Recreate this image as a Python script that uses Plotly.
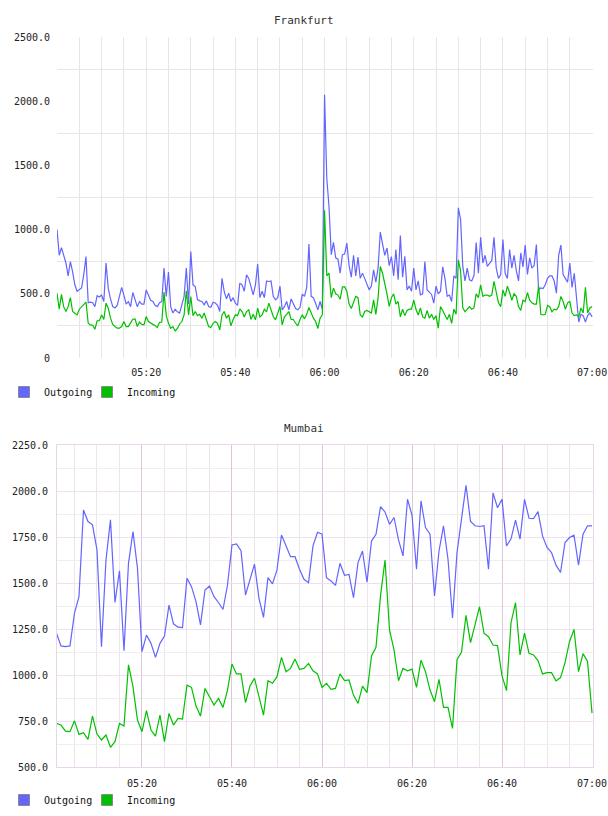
import pandas as pd
import plotly.graph_objects as go

# ---------------- data ----------------
fra_out = [
    1000, 800, 860, 800, 740, 640, 750, 670, 570, 520,
    530, 545, 650, 790, 430, 435, 430, 400, 485, 475,
    490, 440, 740, 540, 460, 400, 390, 410, 480, 550,
    490, 420, 440, 400, 510, 460, 400, 440, 420, 420,
    530, 490, 450, 440, 410, 400, 430, 440, 700, 480,
    670, 400, 350, 380, 360, 350, 420, 480, 700, 420,
    830, 570, 557, 455, 445, 440, 414, 445, 401, 395,
    435, 428, 410, 362, 620, 518, 460, 505, 440, 470,
    427, 410, 583, 570, 520, 648, 620, 560, 492, 570,
    732, 470, 520, 470, 600, 596, 600, 480, 453, 470,
    560, 375, 400, 440, 375, 460, 420, 385, 375, 395,
    497, 480, 549, 888, 480, 470, 425, 375, 440, 380,
    2050, 1400, 1180, 805, 900, 780, 770, 660, 805, 810,
    895, 720, 630, 800, 640, 786, 620, 661, 620, 570,
    531, 560, 687, 590, 700, 981, 900, 800, 857, 720,
    790, 640, 844, 610, 953, 630, 792, 531, 560, 520,
    700, 530, 600, 492, 500, 752, 530, 510, 495, 427,
    560, 500, 520, 710, 620, 480, 490, 440, 640, 620,
    1170, 1080, 713, 600, 700, 609, 600, 640, 900, 660,
    940, 740, 800, 713, 740, 760, 940, 700, 620, 650,
    922, 660, 620, 844, 700, 800, 680, 600, 818, 710,
    880, 650, 780, 700, 720, 883, 531, 545, 540, 570,
    620, 640, 640, 600, 505, 800, 880, 650, 620, 590,
    740, 550, 660, 450, 280, 340, 330, 280, 330, 350,
    320,
]
fra_in = [
    505, 380, 495, 400, 362, 400, 470, 362, 349, 336,
    380, 400, 420, 435, 271, 258, 255, 224, 290, 290,
    336, 300, 427, 388, 310, 262, 245, 232, 232, 245,
    284, 245, 245, 270, 302, 305, 245, 280, 262, 258,
    323, 284, 270, 262, 253, 237, 278, 280, 513, 330,
    270, 232, 245, 211, 230, 265, 284, 336, 523, 336,
    479, 330, 362, 330, 340, 310, 350, 290, 245, 237,
    270, 284, 270, 219, 336, 362, 310, 336, 250, 300,
    336, 330, 383, 362, 320, 362, 375, 300, 340, 297,
    388, 320, 336, 380, 360, 427, 370, 323, 297, 360,
    401, 258, 320, 340, 362, 300, 300, 271, 250, 300,
    336, 305, 340, 393, 350, 310, 284, 230, 310, 336,
    1150, 640, 661, 470, 544, 500, 490, 458, 552, 555,
    520, 420, 385, 440, 480, 470, 336, 320, 362, 370,
    360, 350, 453, 340, 466, 713, 660, 590, 500, 401,
    470, 500, 420, 440, 320, 380, 330, 370, 380, 380,
    450, 380, 335, 390, 320, 310, 370, 310, 340, 300,
    330, 232, 400, 370, 336, 300, 340, 270, 380, 340,
    765, 680, 390, 360, 380, 400, 380, 390, 500, 470,
    570, 480, 490, 490, 480, 490, 596, 500, 430, 400,
    530, 480, 560, 510, 450, 500, 480, 400, 370, 450,
    440, 510, 450, 430, 420, 420, 560, 340, 335, 340,
    410, 400, 360, 380, 375, 400, 480, 440, 380, 430,
    440, 350, 330, 336, 320, 390, 350, 550, 350, 390,
    401,
]
mum_out = [
    1227, 1158, 1154, 1158, 1336, 1426, 1897, 1834, 1816, 1680,
    1154, 1625, 1843, 1394, 1566, 1132, 1607, 1779, 1580, 1127,
    1217, 1172, 1096, 1172, 1212, 1380, 1278, 1260, 1258, 1526,
    1480, 1399, 1272, 1462, 1484, 1426, 1394, 1356, 1489, 1707,
    1712, 1676, 1435, 1520, 1603, 1417, 1313, 1529, 1495, 1571,
    1761, 1702, 1643, 1643, 1575, 1520, 1502, 1702, 1775, 1766,
    1529, 1511, 1487, 1607, 1542, 1547, 1420, 1611, 1674, 1505,
    1728, 1765, 1915, 1886, 1819, 1856, 1734, 1647, 1955, 1868,
    1575, 1946, 1801, 1765, 1430, 1674, 1810, 1629, 1310, 1665,
    1846, 2031, 1834, 1811, 1807, 1811, 1575, 1990, 1909, 1955,
    1701, 1740, 1842, 1738, 1955, 1852, 1850, 1888, 1756, 1693,
    1665, 1597, 1557, 1720, 1747, 1760, 1597, 1765, 1811, 1811,
]
mum_in = [
    737, 728, 695, 692, 751, 677, 686, 650, 777, 679,
    647, 674, 607, 638, 737, 723, 1055, 937, 755, 692,
    806, 701, 668, 782, 638, 791, 728, 764, 760, 945,
    933, 831, 777, 927, 882, 837, 873, 824, 918, 1060,
    1006, 1006, 850, 940, 982, 882, 782, 969, 955, 991,
    1096, 1018, 1036, 1087, 1031, 1036, 1063, 1023, 1006, 933,
    955, 922, 927, 1006, 969, 973, 891, 846, 940, 904,
    1104, 1151, 1430, 1625, 1245, 1136, 969, 1036, 1023, 1032,
    933, 1081, 1018, 918, 855, 976, 824, 824, 710, 1083,
    1125, 1324, 1176, 1272, 1371, 1227, 1208, 1163, 1160, 995,
    915, 1284, 1393, 1109, 1227, 1118, 1109, 1078, 1006, 1013,
    1013, 968, 986, 1067, 1181, 1248, 1018, 1116, 1074, 793,
]

series_names = ["Outgoing", "Incoming"]
series_colors = ["#6464ff", "#00c000"]

fra_yticks = [0, 500, 1000, 1500, 2000, 2500]
fra_ytext = ["0", "500.0", "1000.0", "1500.0", "2000.0", "2500.0"]
fra_ygrid = [250, 750, 1250, 1750, 2250]
mum_yticks = [500, 750, 1000, 1250, 1500, 1750, 2000, 2250]
mum_ytext = ["500.0", "750.0", "1000.0", "1250.0", "1500.0", "1750.0", "2000.0", "2250.0"]
mum_ygrid = [625, 875, 1125, 1375, 1625, 1875, 2125]

day = "2013-05-01 "
x_ticks = [day + t for t in ["05:20", "05:40", "06:00", "06:20", "06:40", "07:00"]]

fra_time = pd.date_range(day + "05:00:00", periods=len(fra_out), freq="30s")
mum_time = pd.date_range(day + "05:01:00", periods=len(mum_out), freq="60s")
five_min = pd.date_range(day + "05:05", day + "06:55", freq="5min")
minor_x = [t for t in five_min if t.minute % 20 != 0]

# ---------------- figure ----------------
W, H = 608, 816
ML, MR = 57, 15
font_mono = "DejaVu Sans Mono"
tick_font = dict(family=font_mono, size=10, color="#222222")


def py(pix):
    return (H - pix) / H


fig = go.Figure()

for vals, name, col in zip([fra_out, fra_in], series_names, series_colors):
    fig.add_trace(go.Scatter(x=fra_time, y=vals, mode="lines", name=name,
                             line=dict(color=col, width=1.2), showlegend=False,
                             xaxis="x", yaxis="y"))
for vals, name, col in zip([mum_out, mum_in], series_names, series_colors):
    fig.add_trace(go.Scatter(x=mum_time, y=vals, mode="lines", name=name,
                             line=dict(color=col, width=1.2), showlegend=False,
                             xaxis="x2", yaxis="y2"))

# legend swatches: one legend per entry so each can be placed freely
legend_specs = [
    ("legend", "x", "y", 0, 4, 392),
    ("legend3", "x", "y", 1, 87, 392),
    ("legend2", "x2", "y2", 0, 4, 800),
    ("legend4", "x2", "y2", 1, 87, 800),
]
legend_layout = {}
for lg, xa, ya, idx, lx, ly in legend_specs:
    fig.add_trace(go.Scatter(x=[None], y=[None], mode="markers", name=series_names[idx],
                             marker=dict(symbol="square", size=11, color=series_colors[idx],
                                         line=dict(color="#8a8a8a", width=1)),
                             legend=lg, xaxis=xa, yaxis=ya, showlegend=True))
    legend_layout[lg] = dict(orientation="h", xref="container", yref="container",
                             x=lx / W, y=py(ly), xanchor="left", yanchor="middle",
                             bgcolor="rgba(0,0,0,0)", borderwidth=0,
                             font=dict(family=font_mono, size=10, color="#111111"),
                             itemwidth=30)

fig.update_layout(
    width=W, height=H,
    margin=dict(l=ML, r=MR, t=0, b=0, autoexpand=False),
    paper_bgcolor="white", plot_bgcolor="white",
    xaxis=dict(domain=[0, 1], anchor="y", type="date",
               range=[day + "05:00:00", day + "07:00:12"],
               tickmode="array", tickvals=x_ticks, tickformat="%H:%M",
               showgrid=True, gridcolor="#e6e6e6", gridwidth=1,
               minor=dict(tickmode="array", tickvals=minor_x, showgrid=True,
                          gridcolor="#e6e6e6", ticks=""),
               showline=False, zeroline=False, ticks="", tickfont=tick_font,
               ticklabelstandoff=7),
    yaxis=dict(domain=[py(358), py(37)], anchor="x", range=[0, 2500],
               tickmode="array", tickvals=fra_yticks, ticktext=fra_ytext,
               showgrid=False,
               minor=dict(tickmode="array", tickvals=fra_ygrid, showgrid=True,
                          gridcolor="#e6e6e6", ticks=""),
               showline=False, zeroline=False, ticks="", tickfont=tick_font,
               ticklabelstandoff=6),
    xaxis2=dict(domain=[0, 1], anchor="y2", type="date",
                range=[day + "05:01:07", day + "07:00:13"],
                tickmode="array", tickvals=x_ticks, tickformat="%H:%M",
                showgrid=True, gridcolor="#dcc6dc", gridwidth=1,
                minor=dict(tickmode="array", tickvals=minor_x, showgrid=True,
                           gridcolor="#ebe6eb", ticks=""),
                showline=True, mirror=True, linecolor="#ead6ea", linewidth=1,
                zeroline=False, ticks="", tickfont=tick_font,
                ticklabelstandoff=7),
    yaxis2=dict(domain=[py(767), py(445)], anchor="x2", range=[500, 2250],
                tickmode="array", tickvals=mum_yticks, ticktext=mum_ytext,
                showgrid=True, gridcolor="#f0dff0", gridwidth=1,
                minor=dict(tickmode="array", tickvals=mum_ygrid, showgrid=True,
                           gridcolor="#f1eef1", ticks=""),
                showline=True, mirror=True, linecolor="#ead6ea", linewidth=1,
                zeroline=False, ticks="", tickfont=tick_font,
                ticklabelstandoff=6),
    annotations=[
        dict(text="Frankfurt", xref="paper", yref="paper",
             x=(304 - ML) / (W - ML - MR), y=py(20), xanchor="center", yanchor="middle",
             showarrow=False, font=dict(family=font_mono, size=11, color="#333333")),
        dict(text="Mumbai", xref="paper", yref="paper",
             x=(304 - ML) / (W - ML - MR), y=py(428), xanchor="center", yanchor="middle",
             showarrow=False, font=dict(family=font_mono, size=11, color="#333333")),
    ],
    **legend_layout,
)

fig.write_html("out.html")
